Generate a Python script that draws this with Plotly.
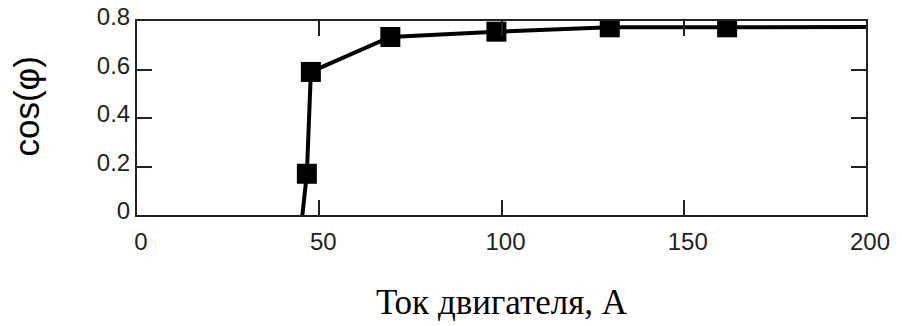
import plotly.graph_objects as go

# Motor current (A) and power factor cos(phi)
current_a = [44.3, 46.6, 47.7, 69.5, 98.6, 129.7, 161.9, 215.0]
cos_phi = [-0.15, 0.17, 0.59, 0.734, 0.756, 0.774, 0.774, 0.776]

x_ticks = [0, 50, 100, 150, 200]
y_ticks = [0, 0.2, 0.4, 0.6, 0.8]
y_tick_text = ["0", "0.2", "0.4", "0.6", "0.8"]

tick_font = dict(family="Liberation Sans Narrow, Arial Narrow, Liberation Sans, Arial, sans-serif",
                 size=24, color="#222")

fig = go.Figure()
fig.add_trace(go.Scatter(
    x=current_a, y=cos_phi,
    mode="lines+markers",
    line=dict(color="black", width=4),
    marker=dict(symbol="square", size=20, color="black"),
    cliponaxis=True,
    showlegend=False,
))

axis_common = dict(
    showgrid=False, zeroline=False,
    showline=True, linecolor="#222", linewidth=2, mirror="ticks",
    ticks="inside", ticklen=15, tickwidth=2, tickcolor="#222",
    tickfont=tick_font,
)

fig.update_xaxes(
    range=[0, 200], tickvals=x_ticks, ticktext=[str(v) for v in x_ticks],
    ticklabelstandoff=4, ticklabelshift=4,
    title=dict(text="Ток двигателя, А", standoff=36,
               font=dict(family="Liberation Serif, Times New Roman, serif", size=35, color="black")),
    **axis_common,
)
fig.update_yaxes(
    range=[0, 0.8], tickvals=y_ticks, ticktext=y_tick_text,
    ticklabelstandoff=0, ticklabelshift=-4,
    **axis_common,
)

# vertical axis caption
fig.add_annotation(
    text="cos(φ)", textangle=-90,
    xref="paper", yref="paper", x=-0.152, y=0.56,
    xanchor="center", yanchor="middle", showarrow=False,
    font=dict(family="Liberation Sans, Arial, sans-serif", size=35, color="black"),
)

fig.update_layout(
    width=902, height=326,
    margin=dict(l=137, r=36, t=21, b=111, autoexpand=False),
    paper_bgcolor="white", plot_bgcolor="white",
)

fig.write_html("out.html")
